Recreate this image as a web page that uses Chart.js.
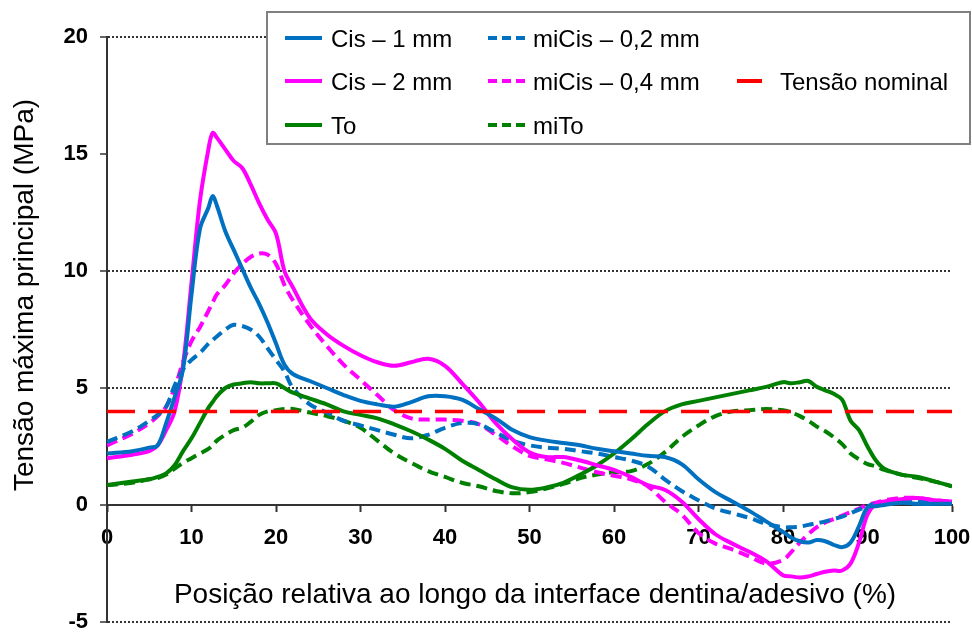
<!DOCTYPE html>
<html>
<head>
<meta charset="utf-8">
<script src="https://cdn.jsdelivr.net/npm/chart.js@4.4.1/dist/chart.umd.min.js"></script>
<style>
html,body{margin:0;padding:0;background:#fff;}
#wrap{width:972px;height:632px;position:relative;}
</style>
</head>
<body>
<div id="wrap"><canvas id="stressChart"></canvas></div>
<script>
// position along the dentin/adhesive interface (%)
const positions = [0,3,5,6,7,8,9,10,11,12,12.5,13,14,15,16,17,18,19,20,21,22,24,26,28,30,32,34,36,38,40,42,44,46,48,50,52,54,56,58,60,62,64,66,68,70,72,74,76,78,80,81,82,83,84,85,86,87,88,89,90,91,92,94,96,98,100];

const cis1mm = [2.2,2.3,2.45,2.55,3.5,4.6,5.8,9.0,11.8,12.7,13.2,12.8,11.7,10.9,10.1,9.3,8.6,7.8,6.9,6.0,5.6,5.3,5.0,4.7,4.45,4.3,4.2,4.4,4.65,4.65,4.5,4.1,3.7,3.2,2.9,2.75,2.65,2.55,2.4,2.3,2.2,2.1,2.05,1.75,1.1,0.55,0.15,-0.25,-0.7,-1.15,-1.4,-1.55,-1.6,-1.5,-1.55,-1.7,-1.8,-1.6,-0.9,-0.1,-0.05,0.0,0.1,0.05,0.05,0.05];
const cis2mm = [2.0,2.15,2.3,2.55,3.2,4.0,6.0,9.5,13.0,15.2,15.9,15.7,15.2,14.7,14.4,13.7,12.9,12.2,11.6,10.0,9.3,8.0,7.3,6.8,6.4,6.1,5.95,6.1,6.25,5.95,5.2,4.4,3.5,2.8,2.25,2.05,2.05,1.9,1.7,1.5,1.2,0.85,0.65,0.15,-0.6,-1.25,-1.65,-2.0,-2.4,-3.0,-3.05,-3.1,-3.05,-2.95,-2.85,-2.8,-2.8,-2.5,-1.6,-0.4,0.05,0.15,0.25,0.3,0.2,0.15];
const to = [0.85,1.0,1.1,1.2,1.35,1.7,2.3,2.85,3.5,4.15,4.4,4.65,5.0,5.15,5.2,5.25,5.2,5.2,5.2,5.0,4.8,4.55,4.3,4.0,3.85,3.7,3.45,3.15,2.8,2.4,1.9,1.5,1.1,0.75,0.65,0.75,0.95,1.3,1.7,2.2,2.8,3.45,4.0,4.3,4.45,4.6,4.75,4.9,5.05,5.25,5.2,5.25,5.3,5.05,4.9,4.75,4.5,3.6,3.2,2.5,1.9,1.55,1.3,1.2,1.0,0.8];
const miCis02 = [2.7,3.15,3.6,3.85,4.2,5.1,5.8,6.2,6.5,6.9,7.05,7.2,7.5,7.7,7.65,7.5,7.2,6.7,6.2,5.7,5.0,4.3,3.95,3.6,3.4,3.2,3.0,2.85,3.0,3.3,3.5,3.45,3.1,2.75,2.55,2.45,2.4,2.3,2.2,2.05,1.9,1.65,1.1,0.6,0.2,-0.15,-0.35,-0.55,-0.8,-0.95,-0.95,-0.93,-0.85,-0.78,-0.7,-0.6,-0.5,-0.35,-0.2,-0.05,0.05,0.1,0.2,0.2,0.15,0.15];
const miCis04 = [2.55,3.05,3.5,3.8,4.2,5.0,6.1,7.0,7.6,8.3,8.65,9.0,9.4,9.9,10.3,10.6,10.75,10.7,10.3,9.4,8.75,7.7,6.8,6.0,5.35,4.7,4.05,3.7,3.65,3.65,3.6,3.45,3.0,2.5,2.1,1.95,1.8,1.6,1.4,1.25,1.1,0.8,0.15,-0.4,-1.2,-1.65,-1.9,-2.2,-2.5,-2.35,-2.0,-1.6,-1.25,-0.95,-0.75,-0.6,-0.45,-0.3,-0.15,0.0,0.1,0.2,0.3,0.3,0.2,0.15];
const miTo = [0.85,0.95,1.1,1.15,1.3,1.55,1.8,2.0,2.2,2.4,2.55,2.75,3.0,3.2,3.3,3.55,3.85,4.0,4.05,4.1,4.1,3.95,3.8,3.6,3.3,2.75,2.2,1.8,1.45,1.2,0.95,0.8,0.6,0.5,0.55,0.7,0.9,1.15,1.3,1.4,1.45,1.75,2.25,2.9,3.4,3.8,4.0,4.05,4.1,4.05,3.95,3.8,3.6,3.35,3.15,2.9,2.6,2.2,1.95,1.75,1.65,1.5,1.3,1.15,1.0,0.8];
const nominalStress = 4;

const FONT = '"Liberation Sans", Arial, sans-serif';

function pts(values){
    return positions.map((x, i) => ({x: x, y: values[i]}));
}

// legend drawn as a boxed 3-column grid like the original figure
const legendBox = {
    id: 'legendBox',
    afterDraw(chart){
        const ctx = chart.ctx;
        const cols = [{line: 285, len: 37, text: 331}, {line: 488, len: 37, text: 533}, {line: 737, len: 25, text: 780}];
        const rows = [38, 81, 125];
        ctx.save();
        ctx.fillStyle = '#fff';
        ctx.fillRect(267, 12, 703, 132);
        ctx.strokeStyle = '#808080';
        ctx.lineWidth = 2;
        ctx.strokeRect(267, 12, 703, 132);
        chart.data.datasets.forEach(ds => {
            const c = cols[ds.legendCol];
            const y = rows[ds.legendRow];
            ctx.beginPath();
            ctx.setLineDash(ds.legendDash);
            ctx.strokeStyle = ds.borderColor;
            ctx.lineWidth = 4;
            ctx.moveTo(c.line, y);
            ctx.lineTo(c.line + c.len, y);
            ctx.stroke();
            ctx.setLineDash([]);
            ctx.fillStyle = '#000';
            ctx.font = '24px ' + FONT;
            ctx.textBaseline = 'alphabetic';
            ctx.textAlign = 'left';
            ctx.fillText(ds.label, c.text, y + 8.5);
        });
        ctx.restore();
    }
};

// axis titles sit inside the plot like in the source figure
const axisTitles = {
    id: 'axisTitles',
    afterDraw(chart){
        const ctx = chart.ctx;
        ctx.save();
        ctx.fillStyle = '#000';
        ctx.font = '28px ' + FONT;
        ctx.textAlign = 'center';
        ctx.textBaseline = 'alphabetic';
        ctx.fillText('Posição relativa ao longo da interface dentina/adesivo (%)', 535, 603);
        ctx.translate(33, 295);
        ctx.rotate(-Math.PI / 2);
        ctx.fillText('Tensão máxima principal (MPa)', 0, 0);
        ctx.restore();
    }
};

function StressChart(){
    const ctx = document.getElementById('stressChart');
    const solid = {borderWidth: 4, pointRadius: 0, tension: 0.35, fill: false};
    const dashed = {borderWidth: 4, pointRadius: 0, tension: 0.35, fill: false, borderDash: [11, 6]};

    new Chart(ctx, {
        type: 'line',
        data: {
            datasets: [
                {
                    label: 'Tensão nominal',
                    data: [{x: positions[0], y: nominalStress}, {x: positions[positions.length - 1], y: nominalStress}],
                    borderColor: '#ff0000', borderWidth: 3.5, borderDash: [28, 13], pointRadius: 0,
                    legendCol: 2, legendRow: 1, legendDash: []
                },
                Object.assign({label: 'Cis – 1 mm', data: pts(cis1mm), borderColor: '#0070c0', legendCol: 0, legendRow: 0, legendDash: []}, solid),
                Object.assign({label: 'Cis – 2 mm', data: pts(cis2mm), borderColor: '#ff00ff', legendCol: 0, legendRow: 1, legendDash: []}, solid),
                Object.assign({label: 'To', data: pts(to), borderColor: '#008000', legendCol: 0, legendRow: 2, legendDash: []}, solid),
                Object.assign({label: 'miCis – 0,2 mm', data: pts(miCis02), borderColor: '#0070c0', legendCol: 1, legendRow: 0, legendDash: [9, 5]}, dashed),
                Object.assign({label: 'miCis – 0,4 mm', data: pts(miCis04), borderColor: '#ff00ff', legendCol: 1, legendRow: 1, legendDash: [9, 5]}, dashed),
                Object.assign({label: 'miTo', data: pts(miTo), borderColor: '#008000', legendCol: 1, legendRow: 2, legendDash: [9, 5]}, dashed)
            ]
        },
        options: {
            responsive: true,
            maintainAspectRatio: false,
            animation: false,
            layout: {
                padding: {left: 0, top: 37, right: 20, bottom: 10}
            },
            scales: {
                x: {
                    type: 'linear',
                    position: {y: 0},
                    min: 0,
                    max: 100,
                    afterFit(scale){
                        scale.paddingLeft = 0;
                        scale.paddingRight = 0;
                    },
                    ticks: {
                        stepSize: 10,
                        color: '#000',
                        padding: 14,
                        maxRotation: 0,
                        font: {family: FONT, size: 22, weight: 'bold'}
                    },
                    grid: {
                        drawOnChartArea: false,
                        drawTicks: true,
                        tickLength: 6,
                        tickColor: '#333',
                        tickWidth: 2
                    },
                    border: {display: true, color: '#333', width: 2}
                },
                y: {
                    min: -5,
                    max: 20,
                    afterFit(scale){
                        scale.width = 107;
                        scale.paddingTop = 0;
                        scale.paddingBottom = 0;
                    },
                    ticks: {
                        stepSize: 5,
                        color: '#000',
                        padding: 12,
                        font: {family: FONT, size: 22, weight: 'bold'}
                    },
                    grid: {
                        color: c => (c.tick && (c.tick.value === 0 || c.tick.value === 15)) ? 'rgba(0,0,0,0)' : '#333',
                        lineWidth: 2,
                        tickLength: 7,
                        tickColor: '#333',
                        tickWidth: 1.5
                    },
                    border: {display: true, color: '#333', width: 2, dash: [2, 2]}
                }
            },
            plugins: {
                legend: {display: false},
                tooltip: {enabled: false}
            }
        },
        plugins: [legendBox, axisTitles]
    });
}

StressChart();
</script>
</body>
</html>
